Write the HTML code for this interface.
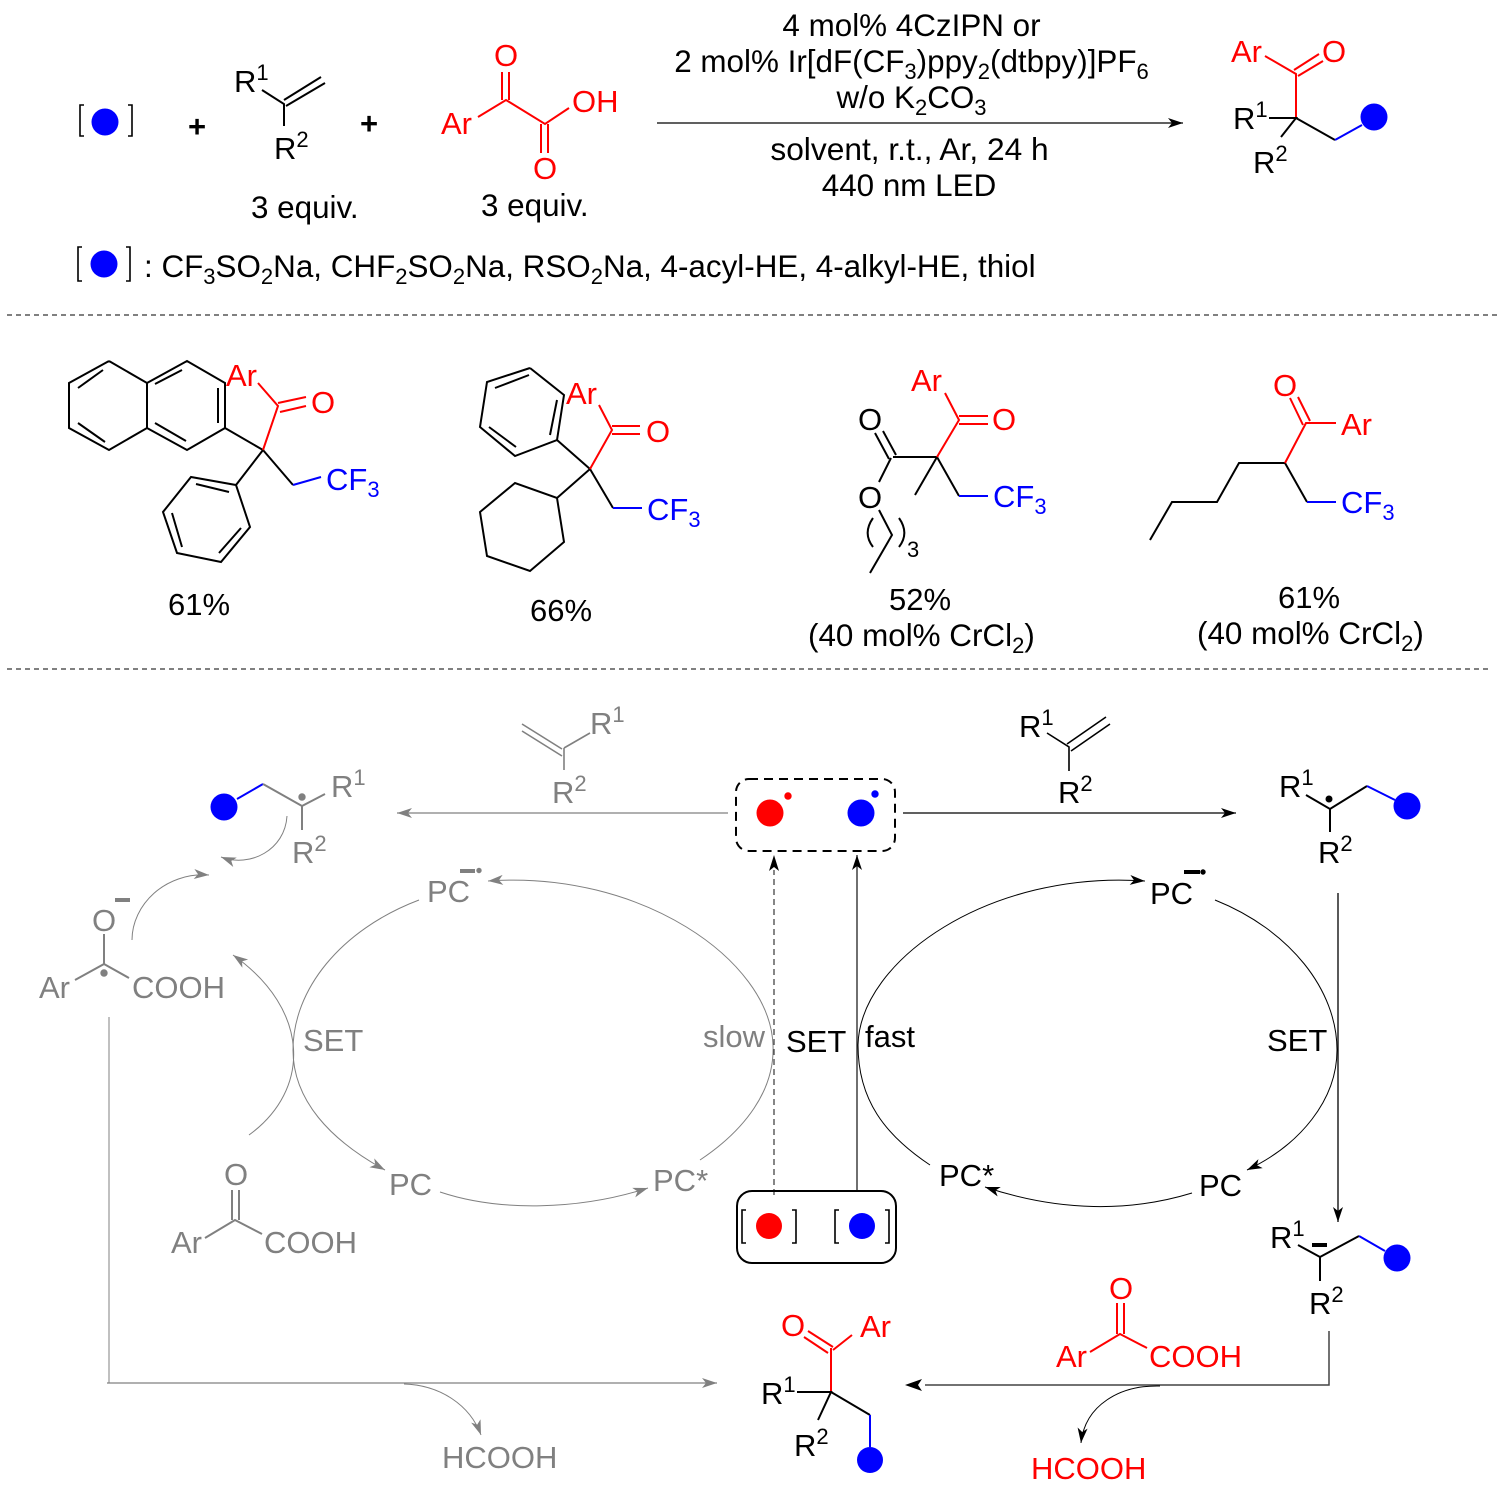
<!DOCTYPE html>
<html><head><meta charset="utf-8"><style>
html,body{margin:0;padding:0;background:#fff}
svg{display:block}
text{font-family:"Liberation Sans",sans-serif;font-size:31px;fill:#000}
text.w{font-size:31.4px}
text.x{font-size:31.7px}
.s{font-size:22px}
.p{font-weight:bold}
.r text,text.r{fill:#f00}.b text,text.b{fill:#00f}.g text,text.g{fill:#808080}
.l{fill:none;stroke:#000;stroke-width:2}
.lr{fill:none;stroke:#f00;stroke-width:2}
.lb{fill:none;stroke:#00f;stroke-width:2}
.lg{fill:none;stroke:#808080;stroke-width:2}
.t{fill:none;stroke:#000;stroke-width:1}
.tg{fill:none;stroke:#808080;stroke-width:1}
.br{fill:none;stroke:#000;stroke-width:1.6}
</style></head><body>
<svg width="1505" height="1496" viewBox="0 0 1505 1496" xmlns="http://www.w3.org/2000/svg">
<defs>
<marker id="a" markerUnits="userSpaceOnUse" markerWidth="20" markerHeight="14" refX="15" refY="7" orient="auto"><path d="M0,2 L15,7 L0,12 L4,7z" fill="#000"/></marker>
<marker id="ag" markerUnits="userSpaceOnUse" markerWidth="20" markerHeight="14" refX="15" refY="7" orient="auto"><path d="M0,2 L15,7 L0,12 L4,7z" fill="#808080"/></marker>
</defs>
<rect width="1505" height="1496" fill="#fff"/>

<!-- TOP SCHEME -->
<path class="br" d="M84,105H80V136H84M128,105H132V136H128"/>
<circle cx="105" cy="122" r="13.5" fill="#00f"/>
<text class="p" x="197" y="137" text-anchor="middle">+</text><text class="p" x="369" y="134" text-anchor="middle">+</text>
<text x="234" y="92">R<tspan class="s" dy="-12">1</tspan></text>
<text x="274" y="159">R<tspan class="s" dy="-12">2</tspan></text>
<path class="l" d="M262,90L284,104V126M284,100L321,77M286,106L325,83"/>
<text class="w" x="251" y="218">3 equiv.</text>
<text class="w" x="481" y="216">3 equiv.</text>
<g class="r"><text x="441" y="134">Ar</text><text x="494" y="66">O</text><text x="572" y="112">OH</text><text x="533" y="179">O</text></g>
<path class="lr" d="M478,117L506,100L545,124L569,108M502,72V100M509,72V100M541,124V153M548,124V153"/>
<path class="t" style="stroke-width:1.3" marker-end="url(#a)" d="M657,123H1183"/>
<g text-anchor="middle">
<text class="w" x="911.5" y="36">4 mol% 4CzIPN or</text>
<text class="w" x="911.5" y="72">2 mol% Ir[dF(CF<tspan class="s" dy="7">3</tspan><tspan dy="-7">)ppy</tspan><tspan class="s" dy="7">2</tspan><tspan dy="-7">(dtbpy)]PF</tspan><tspan class="s" dy="7">6</tspan></text>
<text class="w" x="911.5" y="108">w/o K<tspan class="s" dy="7">2</tspan><tspan dy="-7">CO</tspan><tspan class="s" dy="7">3</tspan></text>
<text class="x" x="909.5" y="160">solvent, r.t., Ar, 24 h</text>
<text class="w" x="909" y="196">440 nm LED</text>
</g>
<g class="r"><text x="1231" y="62">Ar</text><text x="1322" y="62">O</text></g>
<path class="lr" d="M1265,56L1296,74V118M1294,70L1319,54M1298,76L1323,61"/>
<text x="1233" y="129">R<tspan class="s" dy="-12">1</tspan></text>
<text x="1253" y="173">R<tspan class="s" dy="-12">2</tspan></text>
<path class="l" d="M1269,118H1296L1281,137M1296,118L1335,140"/>
<path class="lb" d="M1335,140L1362,125"/>
<circle cx="1374" cy="117" r="13.5" fill="#00f"/>
<path class="br" d="M82,247H78V281H82M126,247H130V281H126"/>
<circle cx="104" cy="264" r="13.5" fill="#00f"/>
<text class="w" x="144" y="277">: CF<tspan class="s" dy="7">3</tspan><tspan dy="-7">SO</tspan><tspan class="s" dy="7">2</tspan><tspan dy="-7">Na, CHF</tspan><tspan class="s" dy="7">2</tspan><tspan dy="-7">SO</tspan><tspan class="s" dy="7">2</tspan><tspan dy="-7">Na, RSO</tspan><tspan class="s" dy="7">2</tspan><tspan dy="-7">Na, 4-acyl-HE, 4-alkyl-HE, thiol</tspan></text>
<path class="t" stroke-dasharray="5 4" d="M7,315H1497M7,669H1490"/>

<!-- COMPOUND 1 -->
<path class="l" d="M109,361L147,383L187,361L225,383V428L187,450L147,428L109,450L69,428V383L109,361M147,383V428M78,388L103,370M78,423L105,442M155,384L182,370M155,423L186,441M218,388V423M225,428L263,450L236,485L191,477L163,512L177,553L221,562L250,527L236,485M196,484L229,492M172,513L182,547M219,553L241,528M263,450L293,485"/>
<path class="lr" d="M263,450L278,406L258,383M278,403L306,397M280,412L306,406"/>
<path class="lb" d="M293,485L321,477"/>
<text class="r" x="226" y="386">Ar</text><text class="r" x="311" y="413">O</text>
<text class="b" x="326" y="490">CF<tspan class="s" dy="7">3</tspan></text>
<text x="168" y="615">61%</text>

<!-- COMPOUND 2 -->
<path class="l" d="M530,368L487,382L480,427L515,456L557,440L564,395L530,368M495,388L529,375M489,427L516,447M550,435L557,400M557,440L590,469L557,498L515,483L480,512L487,556L530,571L564,542L557,498M590,469L613,508"/>
<path class="lr" d="M590,469L612,430L599,405M612,426H640M612,434H640"/>
<path class="lb" d="M613,508H642"/>
<text class="r" x="566" y="404">Ar</text><text class="r" x="646" y="442">O</text>
<text class="b" x="647" y="520">CF<tspan class="s" dy="7">3</tspan></text>
<text x="530" y="621">66%</text>

<!-- COMPOUND 3 -->
<path class="l" d="M875,433L889,459M883,431L896,455M893,457H937L915,495M937,457L959,496M891,458L879,482M879,510L892,535L870,573M873,518C866,528 866,538 873,547M899,518C906,528 906,538 899,547"/>
<path class="lr" d="M937,457L959,420L945,393M959,416H988M959,424H988"/>
<path class="lb" d="M959,496H988"/>
<text x="858" y="430">O</text><text x="858" y="508">O</text><text class="s" x="907" y="557">3</text>
<text class="r" x="911" y="391">Ar</text><text class="r" x="992" y="430">O</text>
<text class="b" x="993" y="507">CF<tspan class="s" dy="7">3</tspan></text>
<text x="889" y="610">52%</text>
<text class="w" x="808" y="646">(40 mol% CrCl<tspan class="s" dy="7">2</tspan><tspan dy="-7">)</tspan></text>

<!-- COMPOUND 4 -->
<path class="l" d="M1285,463H1239L1217,502H1172L1150,540M1285,463L1307,502"/>
<path class="lr" d="M1285,463L1306,423H1336M1290,398L1303,425M1298,397L1310,421"/>
<path class="lb" d="M1307,502H1336"/>
<text class="r" x="1273" y="396">O</text><text class="r" x="1341" y="435">Ar</text>
<text class="b" x="1341" y="513">CF<tspan class="s" dy="7">3</tspan></text>
<text x="1278" y="608">61%</text>
<text class="w" x="1197" y="644">(40 mol% CrCl<tspan class="s" dy="7">2</tspan><tspan dy="-7">)</tspan></text>

<!-- MECHANISM TOP -->
<g class="g"><text x="590" y="734">R<tspan class="s" dy="-12">1</tspan></text><text x="552" y="803">R<tspan class="s" dy="-12">2</tspan></text></g>
<path class="lg" d="M522,724L562,749M522,731L562,756M564,748L590,733M564,748V770" style="stroke-width:1.6"/>
<path class="tg" style="stroke-width:1.3" marker-end="url(#ag)" d="M728,813H397"/>
<text x="1019" y="737">R<tspan class="s" dy="-12">1</tspan></text><text x="1058" y="803">R<tspan class="s" dy="-12">2</tspan></text>
<path class="l" d="M1047,733L1069,747V771M1067,744L1106,717M1071,751L1110,724" style="stroke-width:1.6"/>
<path class="t" style="stroke-width:1.3" marker-end="url(#a)" d="M903,813H1236"/>
<rect x="736" y="779" width="159" height="72" rx="13" fill="none" stroke="#000" stroke-width="2" stroke-dasharray="9 6"/>
<circle cx="770" cy="813" r="13.5" fill="#f00"/><circle cx="788" cy="796" r="3.7" fill="#f00"/>
<circle cx="861" cy="813" r="13.5" fill="#00f"/><circle cx="875" cy="794" r="3.7" fill="#00f"/>

<!-- Right radical -->
<text x="1279" y="797">R<tspan class="s" dy="-12">1</tspan></text><text x="1318" y="863">R<tspan class="s" dy="-12">2</tspan></text>
<path class="l" d="M1306,795L1330,809L1367,786M1330,809V832"/>
<path class="lb" d="M1367,786L1395,800"/>
<circle cx="1407" cy="806" r="13.5" fill="#00f"/><circle cx="1329" cy="799" r="3.5" fill="#000"/>
<path class="t" style="stroke-width:1.3" marker-end="url(#a)" d="M1338,893V1222"/>

<!-- Left radical -->
<circle cx="224" cy="807" r="13.5" fill="#00f"/>
<path class="lb" d="M237,799L263,784"/>
<path class="lg" d="M263,784L302,806L325,794M302,806V830"/>
<circle cx="302" cy="797" r="3.7" fill="#808080"/>
<g class="g"><text x="331" y="797">R<tspan class="s" dy="-12">1</tspan></text><text x="292" y="863">R<tspan class="s" dy="-12">2</tspan></text></g>
<path class="tg" marker-end="url(#ag)" d="M287,816C285,850 250,868 221,857"/>
<path class="tg" marker-end="url(#ag)" d="M132,940C132,905 165,872 209,875"/>
<g class="g"><text x="92" y="931">O</text><text x="39" y="998">Ar</text><text x="132" y="998">COOH</text></g>
<rect x="115" y="898" width="15" height="4" fill="#808080"/>
<path class="lg" d="M104,934V964L75,980M104,964L129,978"/>
<circle cx="104" cy="973" r="3.7" fill="#808080"/>
<path class="tg" d="M109,1017V1383"/>
<path class="tg" style="stroke-width:1.3" marker-end="url(#ag)" d="M107,1383H717"/>
<path class="tg" marker-end="url(#ag)" d="M404,1384C440,1385 470,1405 481,1435"/>
<text class="g" x="442" y="1468">HCOOH</text>

<!-- Left cycle -->
<path class="tg" marker-end="url(#ag)" d="M700,1160C745,1130 775,1090 773,1045C770,960 640,870 488,881"/>
<path class="tg" marker-end="url(#ag)" d="M419,900C340,930 293,990 293,1050C293,1100 330,1140 385,1170"/>
<path class="tg" marker-end="url(#ag)" d="M249,1135C311,1090 311,1010 233,955"/>
<path class="tg" marker-end="url(#ag)" d="M440,1192C500,1212 580,1210 648,1188"/>
<g class="g"><text x="427" y="902">PC</text><text x="389" y="1195">PC</text><text x="653" y="1191">PC*</text><text x="303" y="1051">SET</text><text x="703" y="1047">slow</text></g>
<rect x="460" y="869" width="15" height="4" fill="#808080"/><circle cx="479" cy="870.5" r="2.7" fill="#808080"/>

<!-- Center -->
<path class="t" stroke-dasharray="6 4" style="stroke:#444;stroke-width:1.3" d="M774,1195V870"/>
<path d="M774,855L769,871L774,867L779,871z" fill="#000"/>
<path class="t" style="stroke:#222;stroke-width:1.3" marker-end="url(#a)" d="M857,1192V855"/>
<text x="786" y="1052">SET</text><text x="865" y="1047">fast</text>
<rect x="737" y="1191" width="159" height="72" rx="15" fill="none" stroke="#000" stroke-width="2"/>
<path class="br" d="M746,1210H742V1243H746M792,1210H796V1243H792M839,1210H835V1243H839M885,1210H889V1243H885"/>
<circle cx="769" cy="1226" r="13" fill="#f00"/><circle cx="862" cy="1226" r="13" fill="#00f"/>

<!-- Right cycle -->
<path class="t" marker-end="url(#a)" d="M930,1165C885,1135 858,1100 858,1045C860,960 990,870 1145,881"/>
<path class="t" marker-end="url(#a)" d="M1215,900C1290,930 1337,990 1337,1050C1337,1100 1300,1145 1247,1170"/>
<path class="t" marker-end="url(#a)" d="M1192,1193C1130,1212 1060,1212 985,1187"/>
<text x="1150" y="904">PC</text><text x="939" y="1186">PC*</text><text x="1199" y="1196">PC</text><text x="1267" y="1051">SET</text>
<rect x="1184" y="870" width="16" height="4" fill="#000"/><circle cx="1203" cy="872" r="2.7" fill="#000"/>

<!-- Right anion -->
<text x="1270" y="1248">R<tspan class="s" dy="-12">1</tspan></text><text x="1309" y="1314">R<tspan class="s" dy="-12">2</tspan></text>
<path class="l" d="M1298,1245L1320,1257L1359,1236M1320,1257V1281"/>
<path class="lb" d="M1359,1236L1385,1251"/>
<rect x="1312" y="1243" width="15" height="4" fill="#000"/>
<circle cx="1397" cy="1258" r="13.5" fill="#00f"/>
<path class="t" style="stroke:#444;stroke-width:1.5" d="M1329,1331V1385H925"/>
<path d="M905,1385L922,1379L918,1385L922,1391z" fill="#000"/>

<!-- Red acid -->
<g class="r"><text x="1109" y="1299">O</text><text x="1056" y="1367">Ar</text><text x="1149" y="1367">COOH</text><text x="1031" y="1479">HCOOH</text></g>
<path class="lr" d="M1117,1303V1334M1124,1303V1334M1090,1352L1120,1334L1147,1348"/>
<path class="t" marker-end="url(#a)" d="M1160,1386C1120,1385 1085,1405 1081,1443"/>

<!-- Bottom product -->
<g class="r"><text x="781" y="1336">O</text><text x="860" y="1337">Ar</text></g>
<path class="lr" d="M804,1337L828,1353M808,1331L833,1347M833,1350L852,1335M831,1348V1392"/>
<text x="761" y="1404">R<tspan class="s" dy="-12">1</tspan></text><text x="794" y="1456">R<tspan class="s" dy="-12">2</tspan></text>
<path class="l" d="M797,1392H831L818,1420M831,1392L870,1415"/>
<path class="lb" d="M870,1415V1447"/>
<circle cx="870" cy="1460" r="13" fill="#00f"/>

<!-- Gray acid -->
<g class="g"><text x="224" y="1185">O</text><text x="171" y="1253">Ar</text><text x="264" y="1253">COOH</text></g>
<path class="lg" d="M232,1190V1220M239,1190V1220M205,1238L235,1220L262,1234"/>
</svg>
</body></html>
